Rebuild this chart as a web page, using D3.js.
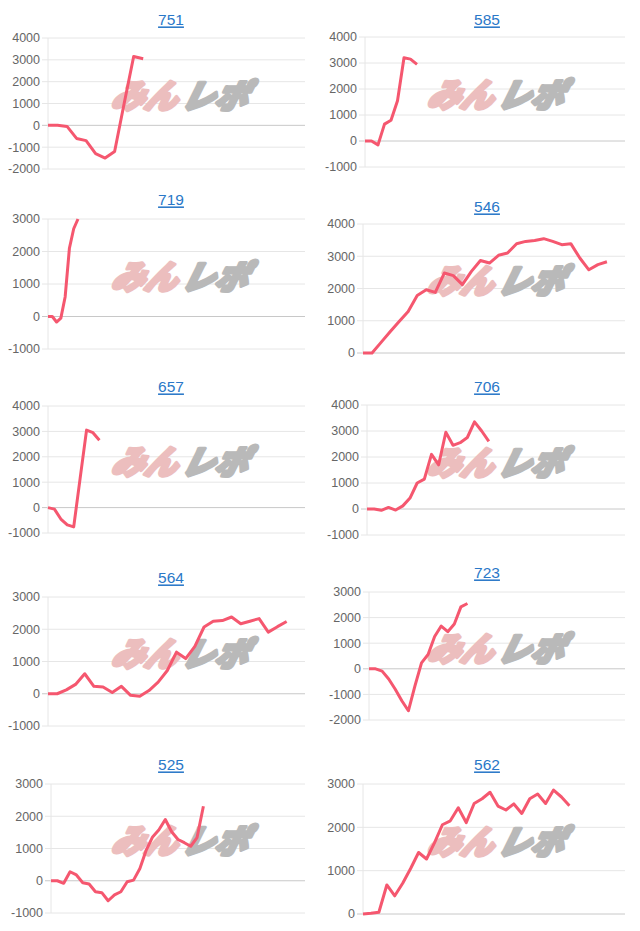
<!DOCTYPE html>
<html><head><meta charset="utf-8">
<script src="https://cdn.jsdelivr.net/npm/d3@7"></script>
<style>body{margin:0;background:#fff;font-family:"Liberation Sans",Arial,sans-serif}</style>
</head><body><svg id="c" width="640" height="931"></svg>
<script>
const titles = ["751","585","719","546","657","706","564","723","525","562"];
const s751 = [0,0,-50,-600,-700,-1300,-1500,-1200,1000,3150,3050];
const s585 = [0,0,-150,650,800,1550,3200,3150,2950];
const s719 = [0,0,-170,-50,600,2100,2700,3000];
const s546 = [0,0,330,660,980,1290,1780,1960,1880,2480,2400,2120,2530,2870,2790,3030,3100,3390,3460,3490,3545,3460,3360,3390,2945,2580,2740,2830];
const s657 = [0,-60,-450,-680,-760,1150,3050,2950,2650];
const s706 = [0,0,-50,60,-40,120,420,1000,1150,2100,1700,2950,2450,2550,2750,3350,3000,2600];
const s564 = [0,0,120,290,620,230,210,40,230,-50,-80,100,360,720,1290,1090,1470,2070,2250,2270,2380,2170,2250,2330,1910,2080,2240];
const s723 = [0,0,-90,-400,-800,-1250,-1640,-670,230,560,1260,1670,1450,1750,2420,2550];
const s525 = [0,0,-80,280,180,-60,-100,-340,-370,-620,-440,-340,-30,20,380,950,1360,1580,1900,1520,1280,1180,1070,1340,2310];
const s562 = [0,15,40,670,420,710,1050,1420,1270,1640,2060,2150,2450,2110,2550,2660,2810,2490,2400,2540,2320,2660,2770,2550,2860,2700,2500];
const series = [s751,s585,s719,s546,s657,s706,s564,s723,s525,s562];
const slots = [27,40,60,29,40,36,28,39,40,33];
const yDomains = [[-2000,4000],[-1000,4000],[-1000,3000],[0,4000],[-1000,4000],[-1000,4000],[-1000,3000],[-2000,3000],[-1000,3000],[0,3000]];

const L = [
 {x0:48,x1:305,top:38,bot:169,ty:20},{x0:365,x1:625,top:37,bot:167,ty:20},
 {x0:48,x1:305,top:219,bot:349,ty:200},{x0:363,x1:625,top:224,bot:353,ty:207},
 {x0:48,x1:305,top:406,bot:533,ty:387},{x0:367,x1:625,top:405,bot:535,ty:387},
 {x0:48,x1:305,top:597,bot:726,ty:578},{x0:369,x1:625,top:592,bot:720,ty:573},
 {x0:51,x1:305,top:784,bot:913,ty:765},{x0:363,x1:625,top:784,bot:914,ty:765}
];
const svg = d3.select("#c");
series.forEach((data,i)=>{
  const l = L[i];
  const g = svg.append("g");
  const x = d3.scaleLinear().domain([0,slots[i]]).range([l.x0,l.x1]);
  const y = d3.scaleLinear().domain(yDomains[i]).range([l.bot,l.top]);
  const ticks = d3.range(yDomains[i][0], yDomains[i][1]+1, 1000);
  g.selectAll("line.grid").data(ticks).enter().append("line")
    .attr("x1",l.x0-6).attr("x2",l.x1).attr("y1",d=>y(d)).attr("y2",d=>y(d))
    .attr("stroke",d=>d===0?"#c8c8c8":"#e6e6e6").attr("stroke-width",1);
  g.append("line").attr("x1",l.x0).attr("x2",l.x0).attr("y1",l.top).attr("y2",l.bot).attr("stroke","#e6e6e6");
  g.selectAll("text.tick").data(ticks).enter().append("text")
    .attr("x",l.x0-8).attr("y",d=>y(d)).attr("dy","0.35em").attr("text-anchor","end")
    .attr("font-size",12.5).attr("fill","#666").text(d=>d);
  const cx = i%2===0 ? 171 : 487;
  g.append("text").attr("x",cx).attr("y",l.ty).attr("dy","0.35em").attr("text-anchor","middle")
    .attr("font-size",15.5).attr("fill","#2a78c8").attr("text-decoration","underline").text(titles[i]);
  const wx = (i%2===0?0:316) + 110, wy = (l.top+l.bot)/2 + 5;
  const wm = g.append("text").attr("x",wx).attr("y",wy)
    .attr("font-size",33).attr("font-weight",900).attr("font-style","italic")
    .attr("font-family","'Noto Sans CJK JP',sans-serif").attr("stroke-width",3.5).attr("stroke-linejoin","round")
    .attr("transform",`skewX(-14) translate(${wy*Math.tan(14*Math.PI/180)},0)`);
  wm.append("tspan").attr("fill","rgb(236,190,190)").attr("stroke","rgb(236,190,190)").text("みん");
  wm.append("tspan").attr("dx",4).attr("fill","rgb(185,185,185)").attr("stroke","rgb(185,185,185)").text("レポ");
  const line = d3.line().x((d,j)=>x(j)).y(d=>y(d));
  g.append("path").datum(data).attr("d",line).attr("fill","none")
    .attr("stroke","#f5576f").attr("stroke-width",3).attr("stroke-linejoin","round");
});
</script></body></html>
